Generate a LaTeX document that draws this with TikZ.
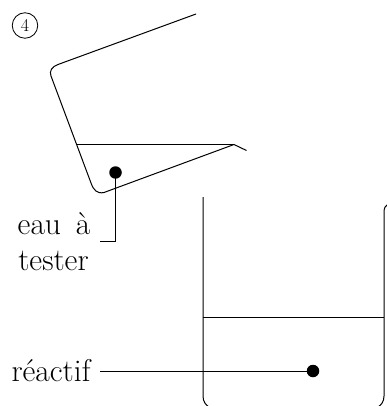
\documentclass[tikz,border=0pt]{standalone}
\begin{document}
\begin{tikzpicture}[x=1pt,y=-1pt,
  line/.style={line width=1pt,black},
  blob/.style={circle,fill=black,inner sep=0pt,minimum size=12.5pt},
  lab/.style={inner sep=0pt,font=\fontsize{31.5}{36}\selectfont}]
\useasboundingbox (0,0) rectangle (387,406);
\clip (0,0) rectangle (387,406);
% flask
\draw[line] (196,14) -- (58,64.5) .. controls (52,66.5) and (49,71) .. (51,76) -- (91,183) .. controls (93.5,190) and (97,194) .. (104,192.5) -- (234,144.5) -- (246.5,150.5);
\draw[line] (76,144.5) -- (234,144.5);
% numbered mark
\node[circle,draw,line width=0.8pt,minimum size=25.5pt,inner sep=0pt,font=\fontsize{18}{20}\selectfont] (num) at (25,25.5) {4};
% lower beaker
\draw[line] (203,197) -- (203,396) .. controls (203,402) and (206,405) .. (209,407);
\draw[line] (388,204) .. controls (385.5,205.5) and (384,208) .. (384,212) -- (384,396) .. controls (384,402) and (381,405) .. (378,407);
\draw[line] (203,317.5) -- (384,317.5);
% dots and labels
\node[blob] (d1) at (115.5,172.5) {};
\node[blob] (d2) at (313,371) {};
\node[lab,anchor=base] (l1) at (54,234) {eau\, à};
\node[lab,anchor=base] (l2) at (53.5,270) {tester};
\node[lab,anchor=base] (l3) at (51,381) {réactif};
\coordinate (c1) at (115.5,241.5);
\coordinate (c2) at (100,241.5);
\coordinate (c3) at (100,371);
\draw[line] (d1.center) -- (c1) -- (c2);
\draw[line] (c3) -- (d2.center);
\end{tikzpicture}
\end{document}
